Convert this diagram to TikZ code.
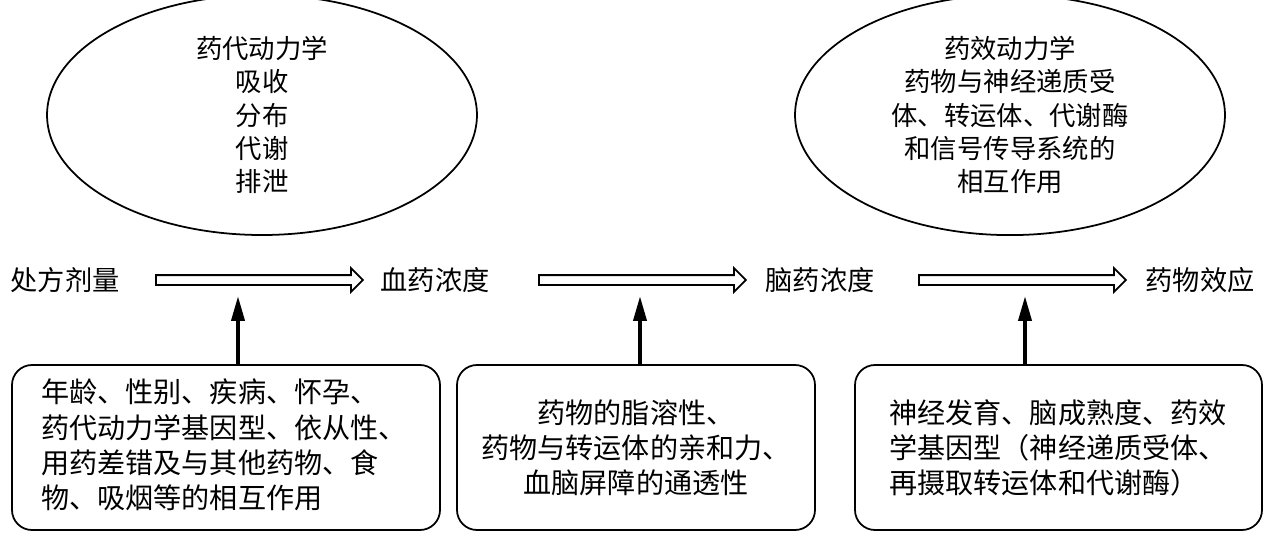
\documentclass[tikz,border=0pt]{standalone}
\usepackage{fontspec}
\setmainfont{Noto Sans CJK SC}
\usetikzlibrary{shapes.geometric,shapes.arrows,arrows.meta}
\tikzset{
  stage/.style={font=\fontsize{15.5}{18}\selectfont},
  bubble/.style={draw,line width=1pt,ellipse,minimum width=8.6cm,minimum height=4.2cm,align=center,font=\fontsize{15}{19}\selectfont},
  factor/.style={draw,line width=1pt,rounded corners=0.4cm,align=left,font=\fontsize{16}{20}\selectfont,inner sep=0pt},
  flow/.style={draw,line width=1pt,single arrow,inner sep=0.08cm,single arrow head extend=0.14cm,minimum height=4.14cm,anchor=west},
  push/.style={-{Triangle[length=0.5cm,width=0.26cm]},line width=2.2pt}
}
\begin{document}
\begin{tikzpicture}[x=0.02cm,y=-0.02cm]
\useasboundingbox (0,0) rectangle (1268,537);
% Ellipses
\node[bubble] (pk) at (262,115) {药代动力学\\吸收\\分布\\代谢\\排泄};
\node[bubble] (pd) at (1010,115) {药效动力学\\药物与神经递质受\\体、转运体、代谢酶\\和信号传导系统的\\相互作用};
% Stages
\node[stage] (dose) at (65,280) {处方剂量};
\node[stage] (blood) at (435,280) {血药浓度};
\node[stage] (brain) at (820,280) {脑药浓度};
\node[stage] (effect) at (1200,280) {药物效应};
\node[flow] (f1) at (155,280) {};
\node[flow] (f2) at (538,280) {};
\node[flow] (f3) at (918,280) {};
% Factors
\path[factor] (12,365) rectangle (440,530);
\path[factor] (457,365) rectangle (815,530);
\path[factor] (855,365) rectangle (1262,530);
\node[factor,draw=none] (fa) at (224,445) {年龄、性别、疾病、怀孕、\\药代动力学基因型、依从性、\\用药差错及与其他药物、食\\物、吸烟等的相互作用};
\node[factor,draw=none,align=center] (fb) at (636,448) {药物的脂溶性、\\药物与转运体的亲和力、\\血脑屏障的通透性};
\node[factor,draw=none] (fc) at (1058,448) {神经发育、脑成熟度、药效\\学基因型（神经递质受体、\\再摄取转运体和代谢酶）};
\coordinate (a1) at (238,365); \coordinate (b1) at (238,296);
\coordinate (a2) at (640,365); \coordinate (b2) at (640,296);
\coordinate (a3) at (1025,365); \coordinate (b3) at (1025,296);
\draw[push] (a1) -- (b1);
\draw[push] (a2) -- (b2);
\draw[push] (a3) -- (b3);
\end{tikzpicture}
\end{document}
